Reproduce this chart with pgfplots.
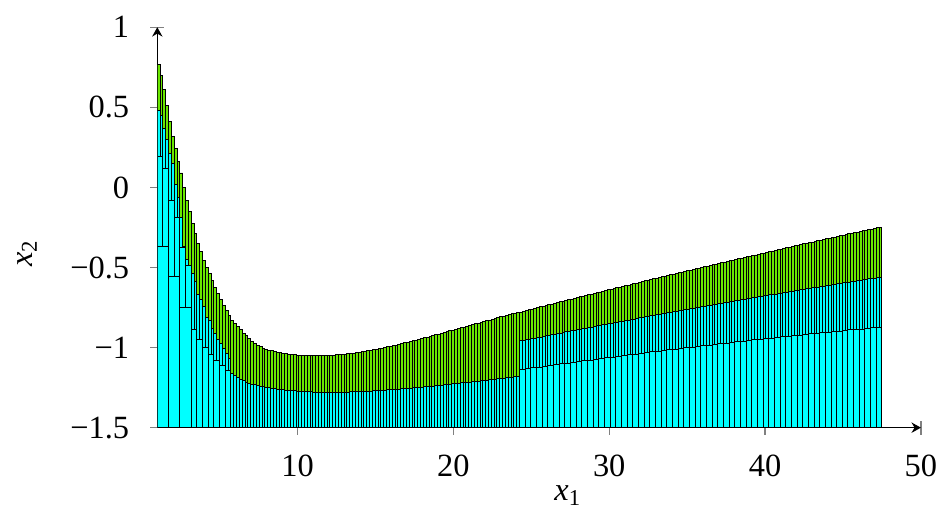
\documentclass[border=0pt]{standalone}
\usepackage{fontspec}
\setmainfont{Liberation Serif}
\usepackage{pgfplots}
\usepackage{pgfplotstable}
\pgfplotsset{compat=1.18}
\usetikzlibrary{arrows.meta}
\definecolor{boxgreen}{RGB}{106,232,0}
\definecolor{boxcyan}{RGB}{0,255,255}

% fine boxes: x = left edge, c = top of green box, g = top of the cyan box below it
\pgfplotstableread{
x c g
1.000 0.765 0.48
1.182 0.70 0.45
1.363 0.61 0.37
1.545 0.51 0.30
1.727 0.41 0.21
1.908 0.32 0.15
2.090 0.24 0.02
2.271 0.16 -0.06
2.453 0.09 -0.19
2.635 0.0 -0.37
2.816 -0.08 -0.45
2.998 -0.15 -0.486
3.180 -0.225 -0.54
3.361 -0.29 -0.59
3.543 -0.35 -0.67
3.725 -0.40 -0.70
3.906 -0.455 -0.746
4.088 -0.50 -0.81
4.270 -0.54 -0.83
4.451 -0.58 -0.88
4.633 -0.625 -0.91
4.814 -0.665 -0.95
4.996 -0.70 -0.975
5.178 -0.735 -1.006
5.359 -0.77 -1.04
5.541 -0.80 -1.07
5.723 -0.83 -1.16
5.904 -0.85 -1.175
6.086 -0.87 -1.187
6.268 -0.89 -1.20
6.449 -0.91 -1.208
6.631 -0.925 -1.216
6.813 -0.944 -1.222
6.994 -0.96 -1.228
7.176 -0.975 -1.233
7.357 -0.985 -1.237
7.539 -0.996 -1.241
7.721 -1.005 -1.245
7.902 -1.012 -1.250
8.084 -1.017 -1.252
8.266 -1.021 -1.255
8.447 -1.026 -1.257
8.629 -1.029 -1.259
8.811 -1.033 -1.262
8.992 -1.036 -1.264
9.174 -1.039 -1.265
9.355 -1.041 -1.267
9.537 -1.043 -1.269
9.719 -1.045 -1.270
9.900 -1.047 -1.272
10.082 -1.048 -1.273
10.264 -1.048 -1.274
10.445 -1.049 -1.275
10.627 -1.050 -1.276
10.809 -1.051 -1.277
10.990 -1.051 -1.278
11.172 -1.051 -1.279
11.354 -1.051 -1.279
11.535 -1.050 -1.279
11.717 -1.050 -1.280
11.898 -1.050 -1.280
12.080 -1.049 -1.280
12.262 -1.048 -1.280
12.443 -1.046 -1.280
12.625 -1.045 -1.279
12.807 -1.044 -1.279
12.988 -1.042 -1.279
13.170 -1.040 -1.278
13.352 -1.037 -1.277
13.533 -1.035 -1.277
13.715 -1.033 -1.276
13.896 -1.030 -1.275
14.078 -1.027 -1.274
14.260 -1.024 -1.273
14.441 -1.020 -1.272
14.623 -1.017 -1.271
14.805 -1.014 -1.270
14.986 -1.010 -1.268
15.168 -1.007 -1.267
15.350 -1.003 -1.266
15.531 -1.000 -1.265
15.713 -0.996 -1.264
15.895 -0.992 -1.263
16.076 -0.988 -1.262
16.258 -0.984 -1.260
16.439 -0.980 -1.259
16.621 -0.976 -1.257
16.803 -0.971 -1.256
16.984 -0.967 -1.254
17.166 -0.963 -1.253
17.348 -0.958 -1.251
17.529 -0.954 -1.250
17.711 -0.949 -1.249
17.893 -0.944 -1.247
18.074 -0.940 -1.245
18.256 -0.935 -1.244
18.438 -0.930 -1.242
18.619 -0.926 -1.240
18.801 -0.921 -1.238
18.982 -0.916 -1.236
19.164 -0.911 -1.235
19.346 -0.906 -1.233
19.527 -0.901 -1.231
19.709 -0.896 -1.229
19.891 -0.891 -1.227
20.072 -0.887 -1.225
20.254 -0.882 -1.223
20.436 -0.877 -1.221
20.617 -0.872 -1.219
20.799 -0.867 -1.217
20.980 -0.862 -1.215
21.162 -0.857 -1.213
21.344 -0.852 -1.211
21.525 -0.847 -1.209
21.707 -0.842 -1.207
21.889 -0.838 -1.205
22.070 -0.833 -1.203
22.252 -0.828 -1.201
22.434 -0.823 -1.199
22.615 -0.818 -1.197
22.797 -0.813 -1.195
22.979 -0.808 -1.193
23.160 -0.804 -1.191
23.342 -0.799 -1.188
23.523 -0.794 -1.186
23.705 -0.790 -1.184
23.887 -0.785 -1.182
24.068 -0.780 -1.180
24.250 -0.778 -0.958
24.432 -0.773 -0.955
24.613 -0.769 -0.951
24.795 -0.764 -0.948
24.977 -0.760 -0.944
25.158 -0.755 -0.941
25.340 -0.751 -0.937
25.521 -0.746 -0.934
25.703 -0.742 -0.930
25.885 -0.737 -0.927
26.066 -0.733 -0.923
26.248 -0.728 -0.920
26.430 -0.724 -0.916
26.611 -0.720 -0.913
26.793 -0.715 -0.909
26.975 -0.711 -0.906
27.156 -0.706 -0.902
27.338 -0.702 -0.899
27.520 -0.697 -0.896
27.701 -0.693 -0.892
27.883 -0.689 -0.889
28.064 -0.684 -0.885
28.246 -0.680 -0.882
28.428 -0.675 -0.878
28.609 -0.671 -0.875
28.791 -0.667 -0.872
28.973 -0.662 -0.868
29.154 -0.658 -0.865
29.336 -0.653 -0.862
29.518 -0.649 -0.858
29.699 -0.645 -0.855
29.881 -0.640 -0.851
30.063 -0.636 -0.848
30.244 -0.632 -0.845
30.426 -0.627 -0.841
30.607 -0.623 -0.838
30.789 -0.619 -0.835
30.971 -0.614 -0.832
31.152 -0.610 -0.828
31.334 -0.606 -0.825
31.516 -0.601 -0.822
31.697 -0.597 -0.818
31.879 -0.593 -0.815
32.061 -0.589 -0.812
32.242 -0.584 -0.809
32.424 -0.580 -0.805
32.605 -0.576 -0.802
32.787 -0.571 -0.799
32.969 -0.567 -0.796
33.150 -0.563 -0.792
33.332 -0.559 -0.789
33.514 -0.555 -0.786
33.695 -0.550 -0.783
33.877 -0.546 -0.780
34.059 -0.542 -0.776
34.240 -0.538 -0.773
34.422 -0.533 -0.770
34.604 -0.529 -0.767
34.785 -0.525 -0.764
34.967 -0.521 -0.760
35.148 -0.517 -0.757
35.330 -0.512 -0.754
35.512 -0.508 -0.751
35.693 -0.504 -0.748
35.875 -0.500 -0.745
36.057 -0.496 -0.742
36.238 -0.492 -0.738
36.420 -0.487 -0.735
36.602 -0.483 -0.732
36.783 -0.479 -0.729
36.965 -0.475 -0.726
37.146 -0.471 -0.723
37.328 -0.467 -0.720
37.510 -0.463 -0.717
37.691 -0.459 -0.714
37.873 -0.455 -0.711
38.055 -0.450 -0.708
38.236 -0.446 -0.705
38.418 -0.442 -0.702
38.600 -0.438 -0.698
38.781 -0.434 -0.695
38.963 -0.430 -0.692
39.145 -0.426 -0.689
39.326 -0.422 -0.686
39.508 -0.418 -0.683
39.689 -0.414 -0.680
39.871 -0.410 -0.677
40.053 -0.405 -0.674
40.234 -0.401 -0.671
40.416 -0.397 -0.668
40.598 -0.393 -0.666
40.779 -0.389 -0.663
40.961 -0.385 -0.660
41.143 -0.381 -0.657
41.324 -0.377 -0.654
41.506 -0.373 -0.651
41.688 -0.369 -0.648
41.869 -0.365 -0.645
42.051 -0.361 -0.642
42.232 -0.357 -0.639
42.414 -0.353 -0.636
42.596 -0.349 -0.633
42.777 -0.345 -0.630
42.959 -0.341 -0.627
43.141 -0.337 -0.625
43.322 -0.333 -0.622
43.504 -0.329 -0.619
43.686 -0.325 -0.616
43.867 -0.322 -0.613
44.049 -0.318 -0.610
44.230 -0.314 -0.608
44.412 -0.310 -0.605
44.594 -0.306 -0.602
44.775 -0.302 -0.599
44.957 -0.298 -0.596
45.139 -0.294 -0.593
45.320 -0.290 -0.591
45.502 -0.286 -0.588
45.684 -0.283 -0.585
45.865 -0.279 -0.582
46.047 -0.275 -0.580
46.229 -0.271 -0.577
46.410 -0.267 -0.574
46.592 -0.263 -0.571
46.773 -0.260 -0.569
46.955 -0.256 -0.566
47.137 -0.252 -0.563
47.318 -0.248 -0.560
47.500 -0.248 -0.560
}\fine

% medium boxes near the left edge
\pgfplotstableread{
x y
1.000 0.196
1.363 0.12
1.727 -0.08
2.090 -0.19
2.453 -0.378
2.816 -0.486
3.180 -0.486
}\medium

% large inner boxes near the left edge
\pgfplotstableread{
x y
1.000 -0.37
1.727 -0.555
2.453 -0.75
3.180 -0.89
3.543 -0.95
3.906 -1.0
4.270 -1.044
4.633 -1.08
4.996 -1.11
5.359 -1.14
5.723 -1.14
}\bigleft

% inner boxes on the right half
\pgfplotstableread{
x y
24.250 -1.137
24.613 -1.132
24.977 -1.127
25.340 -1.122
25.703 -1.117
26.066 -1.112
26.430 -1.107
26.793 -1.102
27.156 -1.097
27.520 -1.092
27.883 -1.088
28.246 -1.083
28.609 -1.078
28.973 -1.073
29.336 -1.069
29.699 -1.064
30.063 -1.059
30.426 -1.055
30.789 -1.050
31.152 -1.045
31.516 -1.041
31.879 -1.036
32.242 -1.032
32.605 -1.027
32.969 -1.023
33.332 -1.018
33.695 -1.014
34.059 -1.010
34.422 -1.005
34.785 -1.001
35.148 -0.997
35.512 -0.993
35.875 -0.988
36.238 -0.984
36.602 -0.980
36.965 -0.976
37.328 -0.972
37.691 -0.968
38.055 -0.964
38.418 -0.960
38.781 -0.956
39.145 -0.952
39.508 -0.948
39.871 -0.944
40.234 -0.941
40.598 -0.937
40.961 -0.933
41.324 -0.929
41.688 -0.926
42.051 -0.922
42.414 -0.918
42.777 -0.915
43.141 -0.911
43.504 -0.908
43.867 -0.904
44.230 -0.901
44.594 -0.897
44.957 -0.894
45.320 -0.890
45.684 -0.887
46.047 -0.884
46.410 -0.880
46.773 -0.877
47.137 -0.874
47.500 -0.874
}\bigright

\begin{document}
\begin{tikzpicture}
\begin{axis}[
  scale only axis,
  width=235.7pt, height=123.6pt,
  xmin=1, xmax=50, ymin=0, ymax=2.5,
  axis lines=left,
  x axis line style={-{Stealth[length=2.9pt,width=3.2pt]}},
  y axis line style={-{Stealth[length=2.9pt,width=3.2pt]}},
  xtick={10,20,30,40,50},
  ytick={0,0.5,1,1.5,2,2.5},
  yticklabels={−1.5,−1,−0.5,0,0.5,1},
  tick align=center,
  major tick length=4.3pt,
  tick style={gray, line width=0.4pt},
  xticklabel shift=2.7pt,
  yticklabel shift=3pt,
  /pgf/number format/assume math mode=true,
  every axis x label/.style={at={(rel axis cs:0.538,0)}, anchor=north, yshift=-14.5pt},
  every axis y label/.style={at={(rel axis cs:-0.1706,0.436)}, rotate=90, anchor=center},
  xlabel={\itshape x\textsubscript{\upshape 1}},
  ylabel={\itshape x\textsubscript{\upshape 2}},
  every axis plot/.append style={line width=0.3pt},
]
\addplot[ybar interval, fill=boxgreen, draw=black] table[x=x, y expr=\thisrow{c}+1.5] {\fine};
\addplot[ybar interval, fill=boxcyan, draw=black] table[x=x, y expr=\thisrow{g}+1.5] {\fine};
\addplot[ybar interval, fill=boxcyan, draw=black] table[x=x, y expr=\thisrow{y}+1.5] {\medium};
\addplot[ybar interval, fill=boxcyan, draw=black] table[x=x, y expr=\thisrow{y}+1.5] {\bigleft};
\addplot[ybar interval, fill=boxcyan, draw=black] table[x=x, y expr=\thisrow{y}+1.5] {\bigright};
\coordinate (bl) at (rel axis cs:-0.206,-0.2005);
\coordinate (tr) at (rel axis cs:1.025,1.068);
\end{axis}
\pgfresetboundingbox
\useasboundingbox (bl) rectangle (tr);
\end{tikzpicture}
\end{document}
